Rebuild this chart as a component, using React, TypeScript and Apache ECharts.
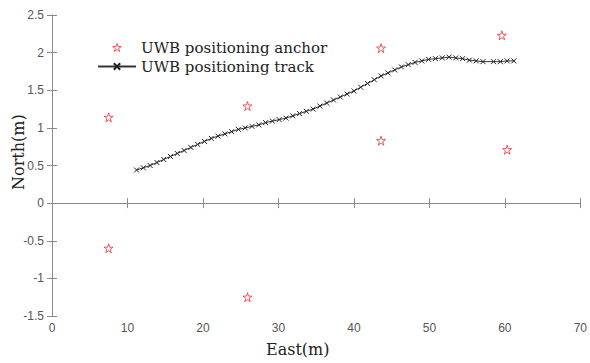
import React, { useEffect, useRef } from "react";
import * as echarts from "echarts";

const anchorX = [7.5, 7.5, 25.9, 25.9, 43.6, 43.6, 59.6, 60.3];
const anchorY = [1.14, -0.6, 1.29, -1.25, 2.06, 0.83, 2.23, 0.71];

const trackX = [
  11.2, 12.1, 13.0, 13.9, 14.8, 15.7, 16.6, 17.5, 18.4, 19.3, 20.2, 21.1, 22.0, 22.9,
  23.8, 24.7, 25.6, 26.5, 27.4, 28.3, 29.2, 30.1, 31.0, 31.9, 32.8, 33.7, 34.6, 35.5,
  36.4, 37.3, 38.2, 39.1, 40.0, 40.9, 41.8, 42.7, 43.6, 44.5, 45.4, 46.3, 47.2, 48.1,
  49.0, 49.9, 50.8, 51.7, 52.6, 53.5, 54.4, 55.3, 56.2, 57.1, 58.5, 59.4, 60.3, 61.2,
];
const trackY = [
  0.44, 0.47, 0.5, 0.54, 0.58, 0.62, 0.66, 0.7, 0.74, 0.78, 0.82, 0.86, 0.89, 0.92,
  0.95, 0.98, 1.0, 1.02, 1.04, 1.07, 1.09, 1.11, 1.13, 1.16, 1.19, 1.22, 1.25, 1.29,
  1.33, 1.37, 1.41, 1.45, 1.49, 1.54, 1.59, 1.64, 1.69, 1.73, 1.77, 1.81, 1.84, 1.87,
  1.89, 1.91, 1.92, 1.93, 1.94, 1.93, 1.92, 1.9, 1.89, 1.88, 1.88, 1.88, 1.89, 1.89,
];

const xTicks = { min: 0, max: 70, interval: 10 };
const yTicks = { min: -1.5, max: 2.5, interval: 0.5 };

const STAR =
  "path://M50,0 L61.8,35.4 L100,35.4 L69.1,57.3 L80.9,92.7 L50,70.8 L19.1,92.7 L30.9,57.3 L0,35.4 L38.2,35.4 Z";
const CROSS = "path://M0,0 L10,10 M10,0 L0,10";

const axisColor = "#8a8a8a";
const starColor = "#e8303a";
const labelFont = "'Liberation Sans', Arial, sans-serif";
const textFont = "'DejaVu Serif', serif";

export default function App() {
  const ref = useRef<HTMLDivElement>(null);
  useEffect(() => {
    if (!ref.current) return;
    const chart = echarts.init(ref.current, null, { renderer: "svg" });
    const axisCommon = {
      type: "value" as const,
      axisLine: { show: true, lineStyle: { color: axisColor, width: 1 } },
      axisTick: { show: true, inside: true, length: 5, lineStyle: { color: axisColor } },
      splitLine: { show: false },
    };
    chart.setOption({
      animation: false,
      backgroundColor: "#ffffff",
      grid: { left: 52, right: 8, top: 15, bottom: 47, containLabel: false },
      legend: {
        orient: "vertical",
        left: 97,
        top: 40,
        padding: 0,
        itemWidth: 38,
        itemHeight: 8,
        itemGap: 4,
        textStyle: { fontFamily: textFont, fontSize: 15, color: "#222" },
        data: [
          {
            name: "UWB positioning anchor",
            itemStyle: { color: "#ffffff", borderColor: starColor, borderWidth: 1 },
          },
          { name: "UWB positioning track" },
        ],
      },
      xAxis: [
        {
          ...axisCommon,
          ...xTicks,
          position: "bottom",
          axisLabel: { margin: 6, color: "#555", fontFamily: labelFont, fontSize: 12 },
        },
        {
          ...axisCommon,
          ...xTicks,
          position: "top",
          axisLabel: { show: false },
        },
      ],
      yAxis: [
        {
          ...axisCommon,
          ...yTicks,
          position: "left",
          axisLabel: { margin: 8, color: "#555", fontFamily: labelFont, fontSize: 12 },
        },
        {
          ...axisCommon,
          ...yTicks,
          position: "right",
          axisLabel: { show: false },
        },
      ],
      series: [
        {
          name: "UWB positioning anchor",
          type: "scatter",
          symbol: STAR,
          symbolSize: 9,
          itemStyle: { color: "#ffffff", borderColor: starColor, borderWidth: 1 },
          data: anchorX.map((x, i) => [x, anchorY[i]]),
        },
        {
          name: "UWB positioning track",
          type: "line",
          symbol: CROSS,
          symbolSize: 5,
          showSymbol: true,
          lineStyle: { color: "#333", width: 1 },
          itemStyle: { color: "none", borderColor: "#222", borderWidth: 1 },
          data: trackX.map((x, i) => [x, trackY[i]]),
        },
      ],
      graphic: [
        {
          type: "text",
          left: 266,
          top: 341,
          style: { text: "East(m)", font: `16px ${textFont}`, fill: "#222" },
        },
        {
          type: "text",
          x: 10,
          y: 190,
          rotation: Math.PI / 2,
          style: { text: "North(m)", font: `16px ${textFont}`, fill: "#222" },
        },
      ],
    });
    return () => chart.dispose();
  }, []);
  return (
    <div
      ref={ref}
      style={{ position: "absolute", left: 0, top: 0, width: 590, height: 363 }}
    />
  );
}
